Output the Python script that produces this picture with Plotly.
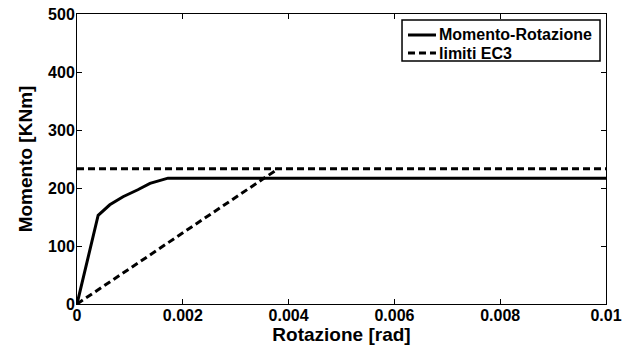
import plotly.graph_objects as go

# Momento-Rotazione curve
rotazione = [0, 0.0004, 0.00062, 0.00087, 0.00115, 0.00138, 0.00172, 0.01]
momento = [0, 153, 171, 185, 197, 208, 217, 217]

# EC3 limits: diagonal (stiffness) and horizontal (resistance)
ec3_rot = [0, 0.0038, None, 0, 0.01]
ec3_mom = [0, 233, None, 233, 233]

x_ticks = [0, 0.002, 0.004, 0.006, 0.008, 0.01]
x_ticklabels = ["0", "0.002", "0.004", "0.006", "0.008", "0.01"]
y_ticks = [0, 100, 200, 300, 400, 500]

series_names = ["Momento-Rotazione", "limiti EC3"]
series_dash = ["solid", "7px,4px"]

FONT = "Liberation Sans"

fig = go.Figure()
fig.add_trace(go.Scatter(x=rotazione, y=momento, mode="lines",
                         name=series_names[0], showlegend=False,
                         line=dict(color="black", width=3, dash=series_dash[0])))
fig.add_trace(go.Scatter(x=ec3_rot, y=ec3_mom, mode="lines",
                         name=series_names[1], showlegend=False,
                         line=dict(color="black", width=3, dash=series_dash[1])))

axis_common = dict(showgrid=False, zeroline=False, showline=True,
                   linecolor="black", linewidth=1, mirror="allticks",
                   ticks="inside", ticklen=5, tickcolor="black",
                   automargin=False,
                   tickfont=dict(family=FONT, size=16, color="black", weight="bold"))

fig.update_xaxes(range=[0, 0.01], tickvals=x_ticks, ticktext=x_ticklabels,
                 ticklabelstandoff=-3,
                 title=dict(text="Rotazione [rad]", standoff=0,
                            font=dict(family=FONT, size=19, color="black", weight="bold")),
                 **axis_common)
fig.update_yaxes(range=[0, 500], tickvals=y_ticks,
                 ticklabelstandoff=-2,
                 title=dict(text="Momento [KNm]", standoff=10,
                            font=dict(family=FONT, size=19, color="black", weight="bold")),
                 **axis_common)

# Compact legend box (MATLAB style) drawn in paper coordinates
lx0, lx1, ly0, ly1 = 0.6144, 0.9887, 0.838, 0.9793
fig.add_shape(type="rect", xref="paper", yref="paper",
              x0=lx0, x1=lx1, y0=ly0, y1=ly1,
              line=dict(color="black", width=1.5), fillcolor="white", layer="above")
row_y = [0.9276, 0.8655]
for name, dash, yy in zip(series_names, series_dash, row_y):
    fig.add_shape(type="line", xref="paper", yref="paper",
                  x0=0.6257, x1=0.6786, y0=yy, y1=yy,
                  line=dict(color="black", width=3, dash=dash), layer="above")
    fig.add_annotation(xref="paper", yref="paper", x=0.6805, y=yy,
                       xanchor="left", yanchor="middle", showarrow=False,
                       text=name,
                       font=dict(family=FONT, size=16, color="black", weight="bold"))

fig.update_layout(
    width=630, height=349,
    margin=dict(l=77, r=24, t=14, b=45),
    plot_bgcolor="white", paper_bgcolor="white",
    font=dict(family=FONT),
    showlegend=False,
)

fig.write_html("out.html")
